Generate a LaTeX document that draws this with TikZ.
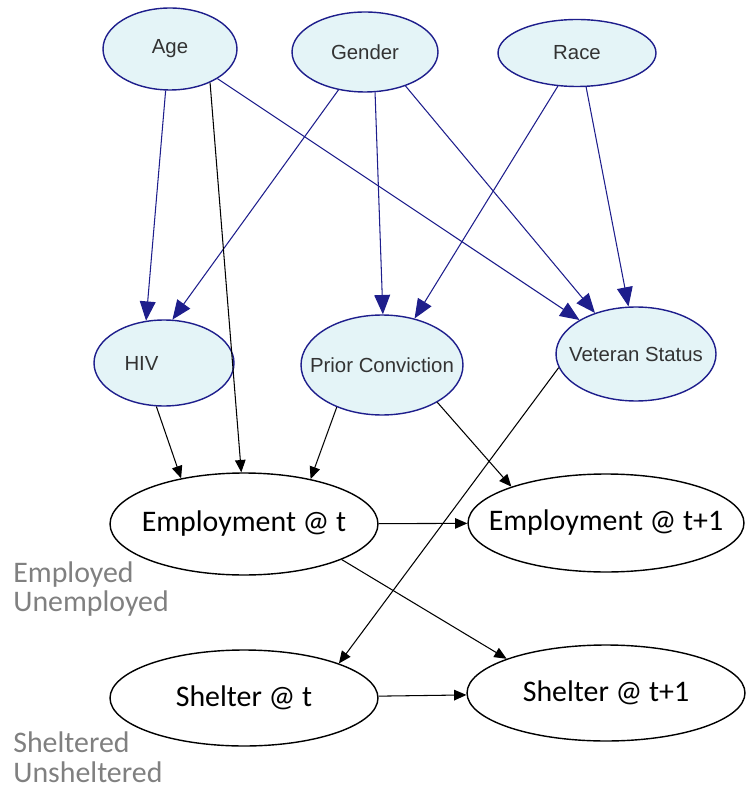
\documentclass[tikz,border=0pt]{standalone}
\usepackage{fontspec}
\setmainfont{Liberation Sans}
\newfontfamily\calibrifont{Carlito}
\usetikzlibrary{arrows.meta,shapes.geometric}
\definecolor{netblue}{RGB}{30,30,140}
\definecolor{netfill}{RGB}{228,244,247}

\begin{document}
\begin{tikzpicture}[
    x=0.02cm, y=-0.02cm,
    >=Latex,
    varnode/.style={
        ellipse,
        draw=netblue,
        fill=netfill,
        line width=0.8pt,
        inner xsep=-0.5cm,
        inner ysep=0pt,
        text=black!80,
        font=\fontsize{11.6}{13}\selectfont
    },
    timenode/.style={
        ellipse,
        draw=black,
        line width=0.8pt,
        inner xsep=-0.5cm,
        inner ysep=0pt,
        fill=white,
        font=\calibrifont\fontsize{17}{20}\selectfont
    },
    statelbl/.style={
        anchor=base west,
        inner sep=0pt,
        text=black!50,
        font=\calibrifont\fontsize{17}{20}\selectfont
    },
    bluearr/.style={netblue, line width=0.6pt, -{Triangle[length=11pt,width=9pt]}},
    blackarr/.style={black, line width=0.6pt, -{Triangle[length=7pt,width=6pt]}}
]

\useasboundingbox (0,0) rectangle (745,793);

% root variables
\node[varnode, minimum width=2.68cm, minimum height=1.64cm] (age) at (170,49) {Age};

\node[varnode, minimum width=2.92cm, minimum height=1.6cm] (gender) at (365,52) {Gender};

\node[varnode, minimum width=3.16cm, minimum height=1.34cm] (race) at (577,53) {Race};

% intermediate variables
\node[varnode, minimum width=2.8cm, minimum height=1.72cm] (hiv) at (164,363) {\makebox[0pt]{HIV\kern0.9cm}};

\node[varnode, minimum width=3.24cm, minimum height=2.0cm] (prior) at (382,365) {Prior Conviction};

\node[varnode, minimum width=3.2cm, minimum height=1.88cm] (vet) at (636,354) {Veteran Status};

% blue links
\draw[bluearr] (age.-96) -- (hiv.113);
\draw[bluearr] (gender.-125) -- (hiv.79);
\draw[bluearr] (gender.-76) -- (prior.89);
\draw[bluearr] (race.-120) -- (prior.55);
\draw[bluearr] (gender.-40) -- (vet.135);
\draw[bluearr] (age.-32) -- (vet.149);
\draw[bluearr] (race.-75) -- (vet.99);

% time slices
\node[timenode, minimum width=5.36cm, minimum height=2.04cm] (empt) at (244,524) {Employment @ t};

\node[timenode, minimum width=5.52cm, minimum height=1.96cm] (empt1) at (606,523) {Employment @ t+1};

\node[timenode, minimum width=5.36cm, minimum height=1.92cm] (shelt) at (244,698) {Shelter @ t};

\node[timenode, minimum width=5.56cm, minimum height=1.92cm] (shelt1) at (606,693) {Shelter @ t+1};

% state labels
\node[statelbl] (employed) at (13,582) {Employed};
\node[statelbl] (unemployed) at (13,611) {Unemployed};
\node[statelbl] (sheltered) at (13,752) {Sheltered};
\node[statelbl] (unsheltered) at (13,782) {Unsheltered};

% black links
\draw[blackarr] (age.-40) -- (empt.93);
\draw[blackarr] (hiv.-100) -- (empt.144);
\draw[blackarr] (prior.-137) -- (empt.34);
\draw[blackarr] (prior.-34) -- (empt1.159);
\draw[blackarr] (vet.-170) -- (shelt.20);
\draw[blackarr] (empt) -- (empt1);
\draw[blackarr] (empt.-20) -- (shelt1.161);
\draw[blackarr] (shelt) -- (shelt1);

\end{tikzpicture}
\end{document}
